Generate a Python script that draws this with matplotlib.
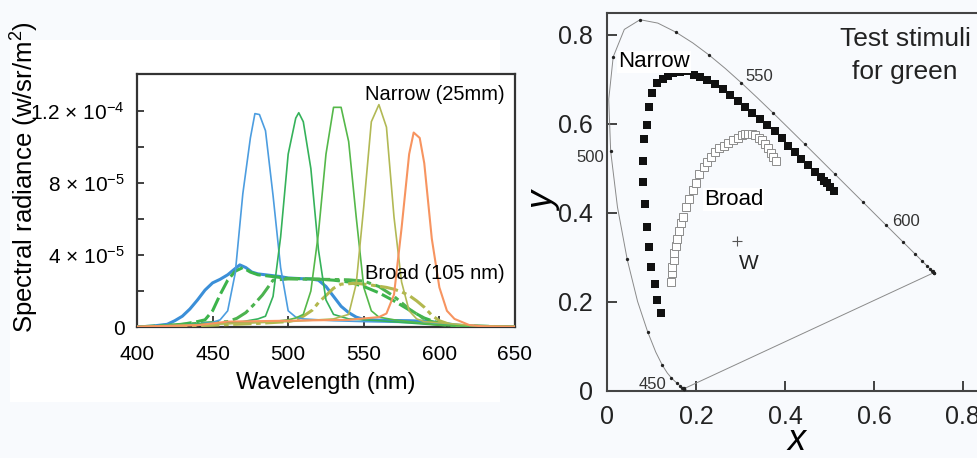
import numpy as np
import matplotlib
matplotlib.use("Agg")
import matplotlib.pyplot as plt
from matplotlib.patches import Rectangle

plt.rcParams['font.family'] = 'Liberation Sans'
plt.rcParams['mathtext.fontset'] = 'custom'
plt.rcParams['mathtext.rm'] = 'Liberation Sans'
plt.rcParams['mathtext.it'] = 'Liberation Sans:italic'

# ---- spectra (radiance in units of 1e-5 W/sr/m^2) ----
# narrow-band stimuli
blue_n_wl = [400, 430, 450, 455, 460, 465, 470, 475, 478, 481, 485, 490, 495, 500, 505, 510, 530, 550, 580, 610, 650]
blue_n = [0.05, 0.1, 0.25, 0.4, 0.9, 3.0, 7.4, 10.5, 11.85, 11.8, 10.9, 7.3, 3.3, 0.9, 0.55, 0.45, 0.35, 0.3, 0.25, 0.1, 0.02]

green1_n_wl = [400, 450, 470, 480, 485, 490, 495, 500, 505, 507, 510, 515, 520, 525, 530, 540, 560, 600, 650]
green1_n = [0.02, 0.2, 0.3, 0.45, 0.6, 1.7, 5.0, 9.6, 11.6, 11.9, 11.4, 8.8, 4.3, 1.5, 0.7, 0.45, 0.35, 0.1, 0.02]

green2_n_wl = [400, 460, 490, 500, 505, 510, 515, 520, 525, 530, 535, 540, 545, 550, 555, 560, 570, 600, 650]
green2_n = [0.02, 0.2, 0.3, 0.4, 0.5, 0.7, 2.0, 5.2, 9.6, 12.2, 12.2, 10.3, 6.1, 2.2, 0.9, 0.55, 0.4, 0.1, 0.02]

yellow_n_wl = [400, 450, 500, 530, 540, 545, 550, 555, 560, 565, 570, 575, 580, 585, 590, 620, 650]
yellow_n = [0.02, 0.15, 0.3, 0.45, 0.7, 2.4, 6.7, 11.4, 12.35, 11.1, 6.1, 2.5, 0.9, 0.45, 0.3, 0.1, 0.02]

orange_n_wl = [400, 440, 460, 500, 540, 560, 565, 570, 575, 580, 583, 587, 590, 595, 600, 605, 610, 620, 630, 650]
orange_n = [0.02, 0.1, 0.3, 0.35, 0.4, 0.55, 0.75, 1.8, 5.5, 9.6, 10.8, 10.5, 9.1, 4.9, 2.2, 0.9, 0.45, 0.1, 0.03, 0.02]

# broad-band stimuli
blue_b_wl = [400, 410, 415, 420, 425, 430, 435, 440, 445, 450, 455, 460, 465, 468, 472, 476, 480, 485, 490,
             495, 500, 505, 510, 515, 520, 525, 530, 535, 540, 545, 550, 560, 570, 580, 590, 600, 610, 620, 650]
blue_b = [0.0, 0.05, 0.1, 0.15, 0.35, 0.6, 1.0, 1.5, 2.05, 2.45, 2.65, 2.9, 3.25, 3.45, 3.3, 3.05, 2.95, 2.9, 2.85,
          2.8, 2.72, 2.7, 2.68, 2.67, 2.6, 2.25, 1.7, 1.15, 0.8, 0.55, 0.42, 0.38, 0.36, 0.35, 0.32, 0.25, 0.12, 0.05, 0.0]

green1_b_wl = [400, 420, 430, 440, 445, 450, 455, 460, 465, 470, 475, 480, 490, 500, 510, 520, 530, 540, 550,
               560, 570, 580, 590, 600, 610, 650]
green1_b = [0.0, 0.05, 0.15, 0.3, 0.4, 0.9, 1.8, 2.6, 3.1, 3.3, 3.05, 2.9, 2.8, 2.7, 2.68, 2.66, 2.6, 2.5, 2.25,
            1.9, 1.45, 0.95, 0.5, 0.2, 0.08, 0.0]

green2_b_wl = [400, 440, 460, 466, 472, 477, 483, 490, 500, 510, 520, 530, 540, 550, 560, 570, 580, 590, 600, 610, 650]
green2_b = [0.0, 0.2, 0.3, 0.48, 0.8, 1.22, 1.78, 2.6, 2.67, 2.66, 2.65, 2.64, 2.62, 2.55, 2.25, 1.7, 1.0, 0.45, 0.15, 0.05, 0.0]

yellow_b_wl = [400, 450, 480, 500, 505, 510, 516, 520, 525, 530, 535, 545, 555, 565, 570, 575, 580, 585, 590,
               595, 600, 608, 620, 650]
yellow_b = [0.0, 0.1, 0.2, 0.3, 0.4, 0.6, 0.94, 1.35, 1.75, 2.15, 2.38, 2.43, 2.33, 2.2, 2.1, 1.95, 1.75, 1.45, 1.1,
            0.65, 0.35, 0.11, 0.03, 0.0]

# ---- CIE 1931 spectral locus, 380-700 nm every 5 nm ----
locus_x = [0.1741, 0.1740, 0.1738, 0.1736, 0.1733, 0.1730, 0.1726, 0.1721, 0.1714, 0.1703, 0.1689, 0.1669,
           0.1644, 0.1611, 0.1566, 0.1510, 0.1440, 0.1355, 0.1241, 0.1096, 0.0913, 0.0687, 0.0454, 0.0235,
           0.0082, 0.0039, 0.0139, 0.0389, 0.0743, 0.1142, 0.1547, 0.1929, 0.2296, 0.2658, 0.3016, 0.3373,
           0.3731, 0.4087, 0.4441, 0.4788, 0.5125, 0.5448, 0.5752, 0.6029, 0.6270, 0.6482, 0.6658, 0.6801,
           0.6915, 0.7006, 0.7079, 0.7140, 0.7190, 0.7230, 0.7260, 0.7283, 0.7300, 0.7311, 0.7320, 0.7327,
           0.7334, 0.7340, 0.7344, 0.7346, 0.7347]
locus_y = [0.0050, 0.0050, 0.0049, 0.0049, 0.0048, 0.0048, 0.0048, 0.0048, 0.0051, 0.0058, 0.0069, 0.0086,
           0.0109, 0.0138, 0.0177, 0.0227, 0.0297, 0.0399, 0.0578, 0.0868, 0.1327, 0.2007, 0.2950, 0.4127,
           0.5384, 0.6548, 0.7502, 0.8120, 0.8338, 0.8262, 0.8059, 0.7816, 0.7543, 0.7243, 0.6923, 0.6589,
           0.6245, 0.5896, 0.5547, 0.5202, 0.4866, 0.4544, 0.4242, 0.3965, 0.3725, 0.3514, 0.3340, 0.3197,
           0.3083, 0.2993, 0.2920, 0.2859, 0.2809, 0.2770, 0.2740, 0.2717, 0.2700, 0.2689, 0.2680, 0.2673,
           0.2666, 0.2660, 0.2656, 0.2654, 0.2653]

# chromaticities of the test stimuli
narrow_x = [0.121, 0.112, 0.108, 0.099, 0.094, 0.091, 0.086, 0.082, 0.082, 0.083, 0.089, 0.094, 0.101, 0.113,
            0.125, 0.137, 0.149, 0.163, 0.180, 0.196, 0.209, 0.225, 0.243, 0.261, 0.276, 0.294, 0.310, 0.327,
            0.344, 0.360, 0.377, 0.393, 0.408, 0.423, 0.437, 0.452, 0.467, 0.480, 0.488, 0.494, 0.501, 0.510]
narrow_y = [0.174, 0.204, 0.240, 0.279, 0.324, 0.369, 0.420, 0.469, 0.517, 0.566, 0.598, 0.637, 0.668, 0.691,
            0.701, 0.708, 0.713, 0.716, 0.719, 0.710, 0.704, 0.698, 0.689, 0.677, 0.665, 0.651, 0.638, 0.625,
            0.611, 0.597, 0.583, 0.567, 0.550, 0.536, 0.520, 0.507, 0.492, 0.480, 0.472, 0.466, 0.458, 0.449]

broad_x = [0.144, 0.145, 0.147, 0.150, 0.151, 0.154, 0.157, 0.161, 0.166, 0.171, 0.178, 0.184, 0.193, 0.199,
           0.207, 0.217, 0.225, 0.234, 0.243, 0.252, 0.263, 0.273, 0.284, 0.294, 0.303, 0.311, 0.318, 0.326,
           0.333, 0.341, 0.348, 0.356, 0.363, 0.369, 0.374, 0.380]
broad_y = [0.245, 0.264, 0.279, 0.294, 0.309, 0.326, 0.342, 0.359, 0.376, 0.391, 0.412, 0.430, 0.451, 0.467,
           0.487, 0.503, 0.515, 0.526, 0.536, 0.545, 0.551, 0.557, 0.563, 0.569, 0.575, 0.578, 0.578, 0.576,
           0.574, 0.569, 0.563, 0.554, 0.545, 0.535, 0.526, 0.517]

white_xy = (0.2915, 0.337)

fig = plt.figure(figsize=(9.77, 4.58), dpi=100, facecolor='#f8fafd')
fig.patches.append(Rectangle((0.0102, 0.1223), 0.5015, 0.79, transform=fig.transFigure,
                             facecolor='white', edgecolor='none', zorder=-10))

# ---------------- left: spectral radiance ----------------
ax = fig.add_axes([0.1402, 0.2860, 0.3869, 0.5524])
ax.set_facecolor('white')

ax.plot(blue_b_wl, blue_b, color='#3b8fd8', lw=2.2, zorder=3)
ax.plot(green1_b_wl, green1_b, color='#3cb44b', lw=2.2, ls=(0, (5, 1.5)), zorder=3)
ax.plot(green2_b_wl, green2_b, color='#4cb34f', lw=2.2, ls=(0, (6, 1.5, 1.5, 1.5)), zorder=3)
ax.plot(yellow_b_wl, yellow_b, color='#b3b84e', lw=2.2, ls=(0, (6, 1.5, 1.5, 1.5)), zorder=3)

ax.plot(blue_n_wl, blue_n, color='#4c9de0', lw=1.2, zorder=4)
ax.plot(green1_n_wl, green1_n, color='#35b25a', lw=1.2, zorder=4)
ax.plot(green2_n_wl, green2_n, color='#55b84a', lw=1.2, zorder=4)
ax.plot(yellow_n_wl, yellow_n, color='#b2b955', lw=1.2, zorder=4)
ax.plot(orange_n_wl, orange_n, color='#f79460', lw=1.5, zorder=4)

ax.set_xlim(400, 650)
ax.set_ylim(0, 14.05)
ax.set_xticks([400, 450, 500, 550, 600, 650])
ax.set_yticks([0, 2, 4, 6, 8, 10, 12])
ax.set_yticklabels(['0', '', '4 × 10$^{-5}$', '', '8 × 10$^{-5}$', '', '1.2 × 10$^{-4}$'])
ax.tick_params(axis='x', direction='in', length=8, width=1.3, pad=13, labelsize=15, colors='#333333',
               labelcolor='black')
ax.tick_params(axis='y', direction='in', length=5, width=1.3, pad=9, labelsize=15, colors='#333333',
               labelcolor='black')
for s in ax.spines.values():
    s.set_linewidth(1.6)
    s.set_color('#333333')
ax.set_xlabel('Wavelength (nm)', fontsize=17, labelpad=6)
fig.text(25 / 977, 1 - 177 / 458, 'Spectral radiance (w/sr/m$^2$)', rotation=90,
         ha='center', va='center', fontsize=18.5)

ax.text(551, 12.9, 'Narrow (25mm)', fontsize=14.5, va='center', ha='left', zorder=6)
ax.text(551, 2.95, 'Broad (105 nm)', fontsize=14.5, va='center', ha='left', zorder=6)

# ---------------- right: CIE xy chromaticity ----------------
ax2 = fig.add_axes([0.6213, 0.1469, 0.3870, 0.8258])
ax2.set_facecolor('none')

ax2.plot(locus_x, locus_y, color='#8a8a8a', lw=0.7, zorder=2)
ax2.plot([locus_x[0], locus_x[-1]], [locus_y[0], locus_y[-1]], color='#8a8a8a', lw=0.7, zorder=2)
ax2.plot(locus_x[::2], locus_y[::2], 'o', color='#222222', ms=2.4, mew=0, zorder=3)

ax2.plot(narrow_x, narrow_y, 's', color='#111111', ms=5.4, mew=0, zorder=4)
ax2.plot(broad_x, broad_y, 's', mfc='white', mec='#8c8c8c', ms=6.0, mew=0.7, zorder=4)
ax2.plot(*white_xy, '+', color='#555555', ms=7, mew=0.8, zorder=4)

ax2.text(0.025, 0.739, 'Narrow', fontsize=16, ha='left', va='center', zorder=5,
         bbox=dict(facecolor='white', edgecolor='none', pad=0.5))
ax2.text(0.218, 0.430, 'Broad', fontsize=16, ha='left', va='center', zorder=5,
         bbox=dict(facecolor='white', edgecolor='none', pad=0.5))
ax2.text(0.319, 0.287, 'W', fontsize=15, ha='center', va='center', color='#222222')
ax2.text(0.670, 0.790, 'Test stimuli', fontsize=19, ha='center', va='center', color='#222222')
ax2.text(0.670, 0.716, 'for green', fontsize=19, ha='center', va='center', color='#222222')

for lbl, lx, ly in [('550', 0.312, 0.707), ('600', 0.640, 0.380), ('500', -0.069, 0.525), ('450', 0.072, 0.013)]:
    ax2.text(lx, ly, lbl, fontsize=12, ha='left', va='center', color='#333333', clip_on=False)

ax2.set_xlim(0, 0.85)
ax2.set_ylim(0, 0.85)
ax2.set_xticks([0, 0.2, 0.4, 0.6, 0.8])
ax2.set_xticklabels(['0', '0.2', '0.4', '0.6', '0.8'])
ax2.set_yticks([0, 0.2, 0.4, 0.6, 0.8])
ax2.set_yticklabels(['0', '0.2', '0.4', '0.6', '0.8'])
ax2.tick_params(direction='in', length=7, width=1.3, pad=10, labelsize=18, colors='#333333',
                labelcolor='#222222')
for s in ax2.spines.values():
    s.set_linewidth(1.5)
    s.set_color('#444444')
ax2.set_xlabel('x', fontsize=26, style='italic', labelpad=-4)
ax2.set_ylabel('y', fontsize=26, style='italic', labelpad=-3)

fig.savefig('out.png', dpi=100, facecolor=fig.get_facecolor())
